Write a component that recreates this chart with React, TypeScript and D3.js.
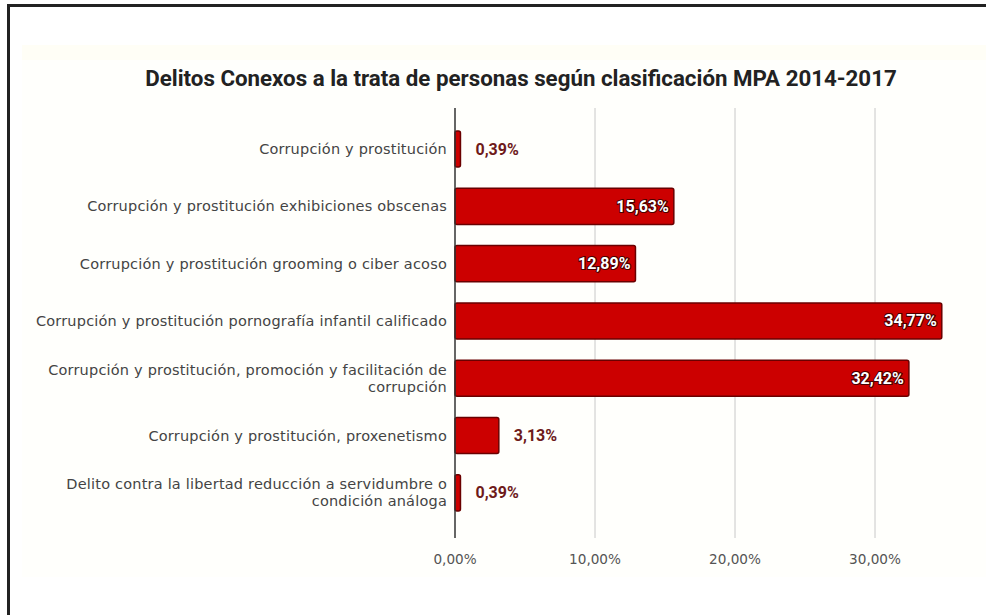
import React from "react";
import * as d3 from "d3";

const title = "Delitos Conexos a la trata de personas según clasificación MPA 2014-2017";
const categories: string[][] = [
  ["Corrupción y prostitución"],
  ["Corrupción y prostitución exhibiciones obscenas"],
  ["Corrupción y prostitución grooming o ciber acoso"],
  ["Corrupción y prostitución pornografía infantil calificado"],
  ["Corrupción y prostitución, promoción y facilitación de", "corrupción"],
  ["Corrupción y prostitución, proxenetismo"],
  ["Delito contra la libertad reducción a servidumbre o", "condición análoga"],
];
const values = [0.39, 15.63, 12.89, 34.77, 32.42, 3.13, 0.39];
const ticks = [0, 10, 20, 30];

const W = 986;
const H = 615;

const fmt = (v: number) => v.toFixed(2).replace(".", ",") + "%";

export default function App() {
  const x = d3.scaleLinear().domain([0, 30]).range([455, 875]);
  const keys = categories.map((_, i) => String(i));
  const y = d3.scaleBand<string>().domain(keys).range([120.4, 521.5]).paddingInner(0.37).paddingOuter(0.185);
  const bw = y.bandwidth();
  const roboto = "Roboto, 'Open Sans', sans-serif";
  const dv = "'DejaVu Sans', Verdana, sans-serif";
  return (
    <svg width={W} height={H} style={{ position: "absolute", left: 0, top: 0, background: "#fff" }} fontFamily={roboto}>
      <rect x={22} y={45} width={W - 22} height={532} fill="#fffffc" />
      <rect x={22} y={45} width={W - 22} height={15} fill="#fffef6" />
      <rect x={7} y={4} width={W - 7} height={3} fill="#222" />
      <rect x={7} y={4} width={3} height={H - 4} fill="#222" />
      <text x={521} y={86} textAnchor="middle" fontSize={22.3} fontWeight={700} fill="#222">{title}</text>
      {ticks.filter(t => t > 0).map(t => (
        <line key={t} x1={x(t)} x2={x(t)} y1={108} y2={538} stroke="#c8c8c8" strokeWidth={1} />
      ))}
      {ticks.map(t => (
        <text key={t} x={x(t)} y={564} textAnchor="middle" fontSize={13.6} fill="#555" fontFamily={dv}>{fmt(t)}</text>
      ))}
      {categories.map((lines, i) => {
        const cy = (y(String(i)) as number) + bw / 2;
        const lh = 17;
        const y0 = cy - ((lines.length - 1) * lh) / 2 + 5;
        return (
          <text key={i} x={447} textAnchor="end" fontSize={14.5} letterSpacing={0.2} fill="#444" fontFamily={dv}>
            {lines.map((l, j) => (
              <tspan key={j} x={447} y={y0 + j * lh}>{l}</tspan>
            ))}
          </text>
        );
      })}
      {values.map((v, i) => {
        const top = y(String(i)) as number;
        const x0 = x(0);
        const x1 = x(v);
        const inside = x1 - x0 > 80;
        return (
          <g key={i}>
            <rect x={x0} y={top} width={Math.max(x1 - x0, 1)} height={bw} fill="#cc0000" stroke="#6a0000" strokeWidth={1.5} rx={2} />
            {inside ? (
              <text x={x1 - 5} y={top + bw / 2 + 5.5} textAnchor="end" fontSize={16} fontWeight={700} fill="#fff"
                stroke="#4a0000" strokeWidth={2.2} style={{ paintOrder: "stroke" }}>{fmt(v)}</text>
            ) : (
              <text x={x1 + 15} y={top + bw / 2 + 5.5} textAnchor="start" fontSize={16} fontWeight={700} fill="#6e1a1a">{fmt(v)}</text>
            )}
          </g>
        );
      })}
      <line x1={x(0)} x2={x(0)} y1={108} y2={538} stroke="#333" strokeWidth={1.5} />
    </svg>
  );
}
